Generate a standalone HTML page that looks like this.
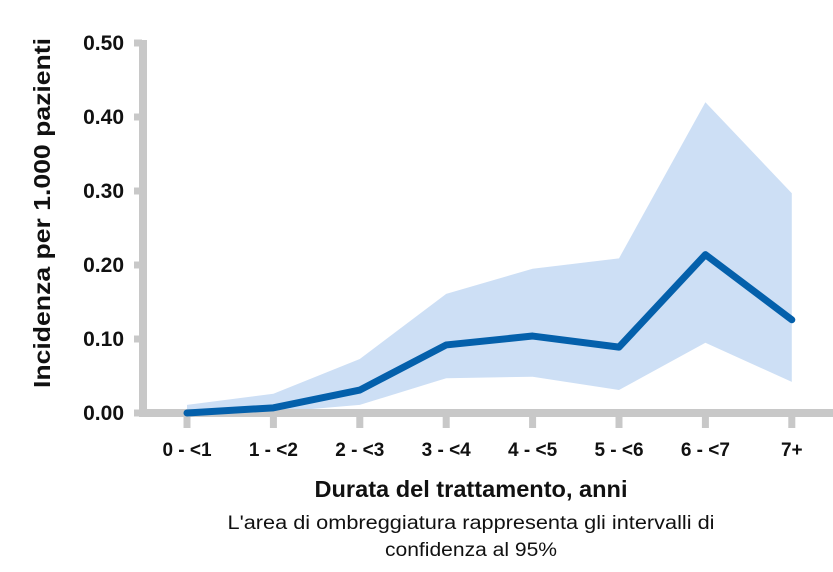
<!DOCTYPE html>
<html><head><meta charset="utf-8"><style>
body{margin:0;background:#fff;width:833px;height:567px;overflow:hidden}
svg text{font-family:"Liberation Sans",sans-serif}
</style></head><body>
<svg width="833" height="567">
<g id="g"></g>
</svg>
<script>
const categories=["0 - <1","1 - <2","2 - <3","3 - <4","4 - <5","5 - <6","6 - <7","7+"];
const incidence=[0.0,0.007,0.031,0.092,0.104,0.089,0.214,0.126];
const upperCI=[0.011,0.026,0.073,0.161,0.195,0.209,0.42,0.297];
const lowerCI=[0.0,0.001,0.011,0.047,0.049,0.031,0.095,0.042];
const yTicks=[0,0.1,0.2,0.3,0.4,0.5];
const yTickLabels=["0.00","0.10","0.20","0.30","0.40","0.50"];
const NS="http://www.w3.org/2000/svg";
const g=document.getElementById('g');
const x=i=>187+i*86.4;
const y=v=>413-v*740;
function mk(t,a,p){const e=document.createElementNS(NS,t);for(const k in a)e.setAttribute(k,a[k]);(p||g).appendChild(e);return e;}
let pts=categories.map((c,i)=>x(i)+','+y(upperCI[i])).concat(categories.map((c,i)=>x(i)+','+y(lowerCI[i])).reverse());
let band=mk('polygon',{points:pts.join(' '),fill:'#cddff5'});


let ya=mk('rect',{x:139,y:40,width:8,height:377,fill:'#c8c8c8'});


let xa=mk('rect',{x:139,y:409,width:694,height:8,fill:'#c8c8c8'});


yTicks.forEach((v,i)=>{
 let t=mk('rect',{x:134,y:y(v)-3.5,width:8,height:7,fill:'#c8c8c8'});
 
 
 let l=mk('text',{x:124,y:y(v)+7,'text-anchor':'end','font-size':'21','font-weight':'bold',fill:'#111'});
 l.textContent=yTickLabels[i];
 
 
});
categories.forEach((c,i)=>{
 let t=mk('rect',{x:x(i)-3.5,y:414,width:7,height:14,fill:'#c8c8c8'});
 
 
 let l=mk('text',{x:x(i),y:456,'text-anchor':'middle','font-size':'19','font-weight':'bold',fill:'#111'});
 l.textContent=c;
 
 
});
let line=mk('polyline',{points:categories.map((c,i)=>x(i)+','+y(incidence[i])).join(' '),fill:'none',stroke:'#0460ab','stroke-width':7,'stroke-linecap':'round','stroke-linejoin':'round'});


let yt=mk('text',{transform:'translate(50,213) rotate(-90)','text-anchor':'middle','font-size':'23','font-weight':'bold',fill:'#111',textLength:'350',lengthAdjust:'spacingAndGlyphs'});
yt.textContent='Incidenza per 1.000 pazienti';


let xt=mk('text',{x:471,y:497,'text-anchor':'middle','font-size':'23','font-weight':'bold',fill:'#111',textLength:'313',lengthAdjust:'spacingAndGlyphs'});
xt.textContent='Durata del trattamento, anni';


let n1=mk('text',{x:471,y:529,'text-anchor':'middle','font-size':'19',fill:'#111',textLength:'487',lengthAdjust:'spacingAndGlyphs'});
n1.textContent="L'area di ombreggiatura rappresenta gli intervalli di";


let n2=mk('text',{x:471,y:556,'text-anchor':'middle','font-size':'19',fill:'#111',textLength:'172',lengthAdjust:'spacingAndGlyphs'});
n2.textContent="confidenza al 95%";


</script>
</body></html>
